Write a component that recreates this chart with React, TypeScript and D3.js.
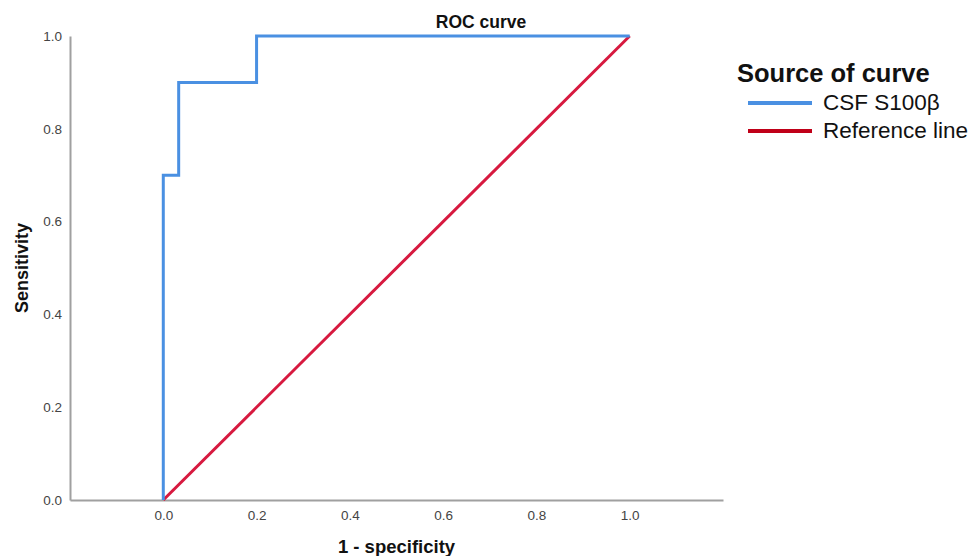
import React, { useEffect, useRef } from 'react';
import * as d3 from 'd3';

const rocX = [0, 0, 0.033, 0.033, 0.2, 0.2, 1.0];
const rocY = [0, 0.7, 0.7, 0.9, 0.9, 1.0, 1.0];
const refX = [0, 1];
const refY = [0, 1];
const xTicks = [0, 0.2, 0.4, 0.6, 0.8, 1.0];
const yTicks = [0, 0.2, 0.4, 0.6, 0.8, 1.0];
const legendItems = ['CSF S100β', 'Reference line'];
const legendColors = ['#4a90e2', '#c00018'];

const W = 969;
const H = 556;
const margin = { left: 70, right: 246, top: 36, bottom: 56 };

export default function App() {
  const svgRef = useRef<SVGSVGElement>(null);

  useEffect(() => {
    const svg = d3.select(svgRef.current);
    svg.selectAll('*').remove();
    const font = 'Arial, "Liberation Sans", sans-serif';

    const x = d3.scaleLinear().domain([-0.2, 1.2]).range([margin.left, W - margin.right]);
    const y = d3.scaleLinear().domain([0, 1]).range([H - margin.bottom, margin.top]);

    // axes
    const xAxis = svg.append('g').attr('transform', `translate(0,${y(0)})`)
      .call(d3.axisBottom(x).tickValues(xTicks).tickSize(0).tickPadding(10).tickFormat(d3.format('.1f')));
    const yAxis = svg.append('g').attr('transform', `translate(${margin.left},0)`)
      .call(d3.axisLeft(y).tickValues(yTicks).tickSize(0).tickPadding(8).tickFormat(d3.format('.1f')));
    [xAxis, yAxis].forEach(a => {
      a.select('.domain').attr('stroke', '#a0a0a0').attr('stroke-width', 2);
      a.selectAll('text').attr('font-family', font).attr('font-size', 13.5).attr('fill', '#444');
    });

    const lineFn = (xs: number[], ys: number[]) =>
      d3.line<number>().x(i => x(xs[i])).y(i => y(ys[i]))(d3.range(xs.length));

    svg.append('path').attr('d', lineFn(refX, refY)!)
      .attr('fill', 'none').attr('stroke', '#d7193f').attr('stroke-width', 3);
    svg.append('path').attr('d', lineFn(rocX, rocY)!)
      .attr('fill', 'none').attr('stroke', '#4a90e2').attr('stroke-width', 3).attr('stroke-linejoin', 'miter');

    // titles
    svg.append('text').attr('x', 481).attr('y', 28).attr('text-anchor', 'middle')
      .attr('font-family', font).attr('font-size', 17.5).attr('font-weight', 'bold').attr('fill', '#111')
      .text('ROC curve');
    svg.append('text').attr('x', (margin.left + W - margin.right) / 2).attr('y', 553).attr('text-anchor', 'middle')
      .attr('font-family', font).attr('font-size', 18.5).attr('font-weight', 'bold').attr('fill', '#111')
      .text('1 - specificity');
    svg.append('text').attr('transform', `translate(28,${(margin.top + H - margin.bottom) / 2}) rotate(-90)`)
      .attr('text-anchor', 'middle')
      .attr('font-family', font).attr('font-size', 18).attr('font-weight', 'bold').attr('fill', '#111')
      .text('Sensitivity');

    // legend
    const lg = svg.append('g').attr('transform', 'translate(737,0)');
    lg.append('text').attr('x', 0).attr('y', 82)
      .attr('font-family', font).attr('font-size', 25.5).attr('font-weight', 'bold').attr('fill', '#111')
      .text('Source of curve');
    legendItems.forEach((name, i) => {
      const yy = 103 + i * 28;
      lg.append('line').attr('x1', 11).attr('x2', 75).attr('y1', yy).attr('y2', yy)
        .attr('stroke', legendColors[i]).attr('stroke-width', 4);
      lg.append('text').attr('x', 86).attr('y', yy + 7)
        .attr('font-family', font).attr('font-size', 22.5).attr('fill', '#111').text(name);
    });
  }, []);

  return (
    <svg ref={svgRef} width={W} height={H}
      style={{ position: 'absolute', left: 0, top: 0, background: '#fff', display: 'block' }} />
  );
}
